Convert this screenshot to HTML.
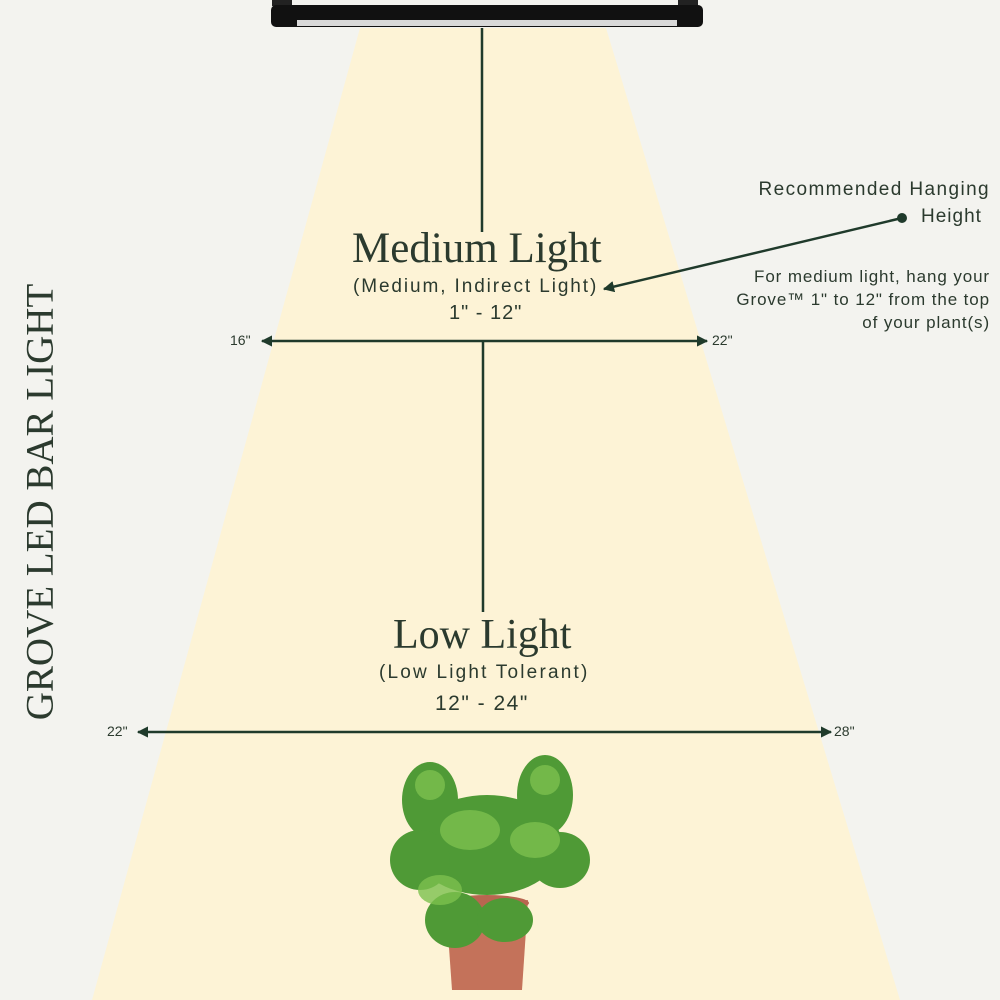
<!DOCTYPE html>
<html><head><meta charset="utf-8"><style>
body{margin:0;width:1000px;height:1000px;background:#f3f3ef;position:relative;overflow:hidden;font-family:"Liberation Sans",sans-serif;color:#2b3a2e}
.t{position:absolute;white-space:nowrap}
</style></head><body>
<svg width="1000" height="1000" style="position:absolute;left:0;top:0">
<defs><marker id="a" viewBox="0 0 10 10" refX="9" refY="5" markerWidth="4.5" markerHeight="4.5" orient="auto-start-reverse"><path d="M0,0L10,5L0,10z" fill="#1f3a2b"/></marker></defs>
<polygon points="360,28 606,28 900,1000 92,1000" fill="#fdf3d6"/>
<rect x="272" y="0" width="20" height="6" fill="#222"/><rect x="678" y="0" width="20" height="6" fill="#222"/>
<rect x="271" y="5" width="432" height="22" rx="5" fill="#111"/>
<rect x="297" y="20" width="380" height="6" fill="#d8d8d8"/>
<g stroke="#1f3a2b" stroke-width="2.5" fill="none">
<line x1="482" y1="28" x2="482" y2="232"/>
<line x1="483" y1="342" x2="483" y2="612"/>
<line x1="262" y1="341" x2="707" y2="341" marker-start="url(#a)" marker-end="url(#a)"/>
<line x1="138" y1="732" x2="831" y2="732" marker-start="url(#a)" marker-end="url(#a)"/>
<line x1="902" y1="218" x2="604" y2="289" marker-end="url(#a)"/>
</g>
<circle cx="902" cy="218" r="5" fill="#1f3a2b"/>
<path d="M446,905 L528,900 L522,990 L452,990 Z" fill="#c4725a"/>
<ellipse cx="487" cy="903" rx="42" ry="8" fill="#b86650"/>
<g fill="#4f9a36">
<ellipse cx="487" cy="845" rx="75" ry="50"/>
<ellipse cx="430" cy="800" rx="28" ry="38"/><ellipse cx="545" cy="795" rx="28" ry="40"/>
<ellipse cx="420" cy="860" rx="30" ry="30"/><ellipse cx="560" cy="860" rx="30" ry="28"/>
<ellipse cx="455" cy="920" rx="30" ry="28"/><ellipse cx="505" cy="920" rx="28" ry="22"/>
</g>
<g fill="#7cc04e" opacity=".8">
<ellipse cx="470" cy="830" rx="30" ry="20"/><ellipse cx="535" cy="840" rx="25" ry="18"/><ellipse cx="430" cy="785" rx="15" ry="15"/><ellipse cx="545" cy="780" rx="15" ry="15"/><ellipse cx="440" cy="890" rx="22" ry="15"/>
</g>
</svg>
<div class="t" style="left:352px;top:224px;font-family:'Liberation Serif',serif;font-size:43px">Medium Light</div>
<div class="t" style="left:353px;top:276px;font-size:19px;letter-spacing:1.9px">(Medium, Indirect Light)</div>
<div class="t" style="left:449px;top:302px;font-size:20px;letter-spacing:1px">1" - 12"</div>
<div class="t" style="left:393px;top:611px;font-family:'Liberation Serif',serif;font-size:42px">Low Light</div>
<div class="t" style="left:379px;top:662px;font-size:19px;letter-spacing:2.2px">(Low Light Tolerant)</div>
<div class="t" style="left:435px;top:692px;font-size:21px;letter-spacing:1.5px">12" - 24"</div>
<div class="t" style="left:230px;top:332px;font-size:14px">16"</div>
<div class="t" style="left:712px;top:332px;font-size:14px">22"</div>
<div class="t" style="left:107px;top:723px;font-size:14px">22"</div>
<div class="t" style="left:834px;top:723px;font-size:14px">28"</div>
<div class="t" style="right:10px;top:179px;font-size:19px;letter-spacing:1.4px">Recommended Hanging</div>
<div class="t" style="left:921px;top:206px;font-size:19px;letter-spacing:1px">Height</div>
<div class="t" style="right:10px;top:265px;font-size:17px;letter-spacing:0.9px;text-align:right;line-height:23px">For medium light, hang your<br>Grove™ 1" to 12" from the top<br>of your plant(s)</div>
<div class="t" style="left:40px;top:502px;font-family:'Liberation Serif',serif;font-size:39px;transform:translate(-50%,-50%) rotate(-90deg);transform-origin:center">GROVE LED BAR LIGHT</div>
</body></html>
